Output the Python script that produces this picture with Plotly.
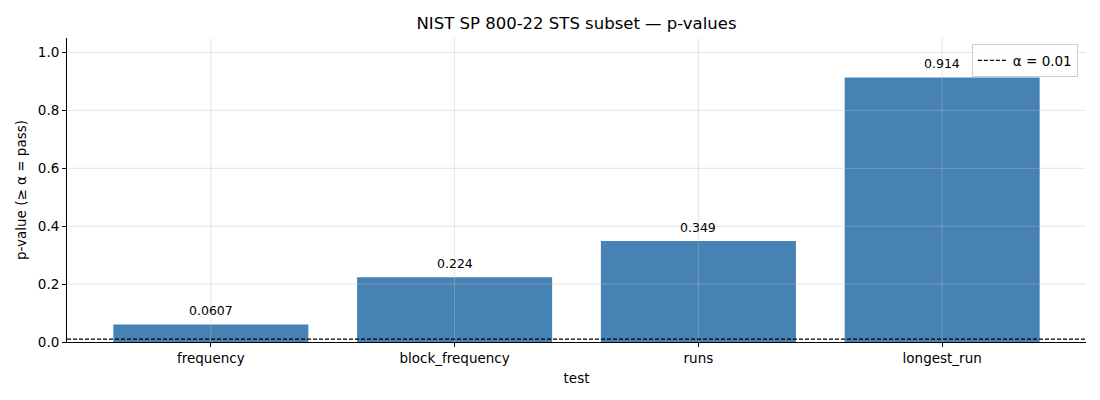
import plotly.graph_objects as go

tests = ["frequency", "block_frequency", "runs", "longest_run"]
p_values = [0.0607, 0.224, 0.349, 0.914]
p_labels = ["0.0607", "0.224", "0.349", "0.914"]
alpha = 0.01
y_ticks = [0, 0.2, 0.4, 0.6, 0.8, 1.0]

fig = go.Figure()

fig.add_trace(go.Bar(
    x=tests, y=p_values, width=0.8,
    marker=dict(color="#4682b4", line_width=0),
    showlegend=False, hoverinfo="x+y",
))

# value labels above bars
for t, v, lab in zip(tests, p_values, p_labels):
    fig.add_annotation(x=t, y=v, text=lab, showarrow=False,
                       yanchor="bottom", yshift=4, font=dict(size=12.5, color="black"))

# grid drawn over the bars, like the reference
grid = dict(color="rgba(190,190,190,0.4)", width=1)
for i in range(len(tests)):
    fig.add_shape(type="line", xref="x", yref="paper", x0=i, x1=i, y0=0, y1=1,
                  line=grid, layer="above")
for v in y_ticks[1:]:
    fig.add_shape(type="line", xref="paper", yref="y", x0=0, x1=1, y0=v, y1=v,
                  line=grid, layer="above")

# alpha threshold line across the whole axis
fig.add_shape(type="line", xref="paper", yref="y", x0=0, x1=1, y0=alpha, y1=alpha,
              line=dict(color="black", width=1.2, dash="4px,2px"), layer="above",
              name="α = 0.01", showlegend=True)

fig.update_layout(
    width=1100, height=400,
    margin=dict(l=59, r=22, t=30, b=66),
    paper_bgcolor="white", plot_bgcolor="white",
    font=dict(family="DejaVu Sans", size=13, color="black"),
    title=dict(text="NIST SP 800-22 STS subset — p-values", x=0.5, xref="paper",
               xanchor="center", y=0.962, yanchor="middle", font=dict(size=16.5)),
    legend=dict(x=0.992, y=0.98, xanchor="right", yanchor="top",
                bordercolor="#d0d0d0", borderwidth=1, bgcolor="rgba(255,255,255,0.8)",
                font=dict(size=13.5), itemwidth=30, tracegroupgap=0),
)

fig.update_xaxes(
    range=[-0.59, 3.59], showline=True, linecolor="black", linewidth=1,
    ticks="outside", ticklen=4, tickcolor="black",
    showgrid=False, tickfont=dict(size=13.5),
    title=dict(text="test", standoff=8, font=dict(size=13.5)), zeroline=False,
)
fig.update_yaxes(
    range=[0, 1.05], showline=True, linecolor="black", linewidth=1,
    ticks="outside", ticklen=4, tickcolor="black",
    tickvals=y_ticks, tickformat=".1f", tickfont=dict(size=13.5),
    showgrid=False,
    title=dict(text="p-value (≥ α = pass)", standoff=8, font=dict(size=13.5)), zeroline=False,
)

fig.write_html("out.html")
